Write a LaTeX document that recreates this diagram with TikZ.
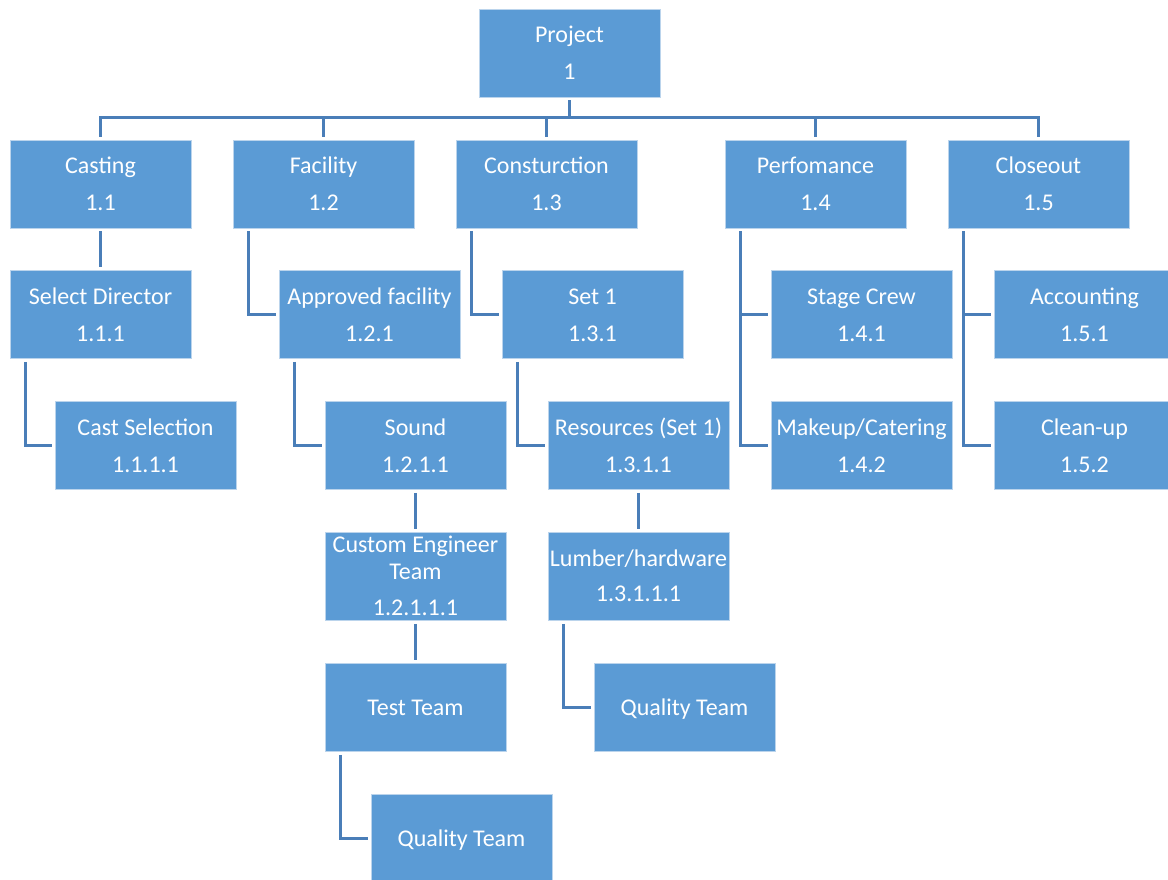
\documentclass[tikz,border=0pt]{standalone}
\usepackage{fontspec}
\setmainfont{Carlito}
\definecolor{boxfill}{HTML}{5B9BD5}
\definecolor{boxline}{HTML}{BBD4EC}
\definecolor{connc}{HTML}{4A7EB8}
\tikzset{
  wbsbox/.style={draw=boxline, line width=0.8pt, fill=boxfill, minimum width=181pt, minimum height=88pt, inner sep=0pt},
  wbstxt/.style={text=white, font=\fontsize{24}{28}\selectfont, inner sep=0pt, text height=15pt, text depth=0pt, anchor=center},
  conn/.style={draw=connc, line width=3pt, shorten <=3pt, shorten >=3pt},
}
% name, x, y, line1, line2
\newcommand\wbsbox[5]{%
  \node[wbsbox] (#1) at (#2,#3) {};
  \node[wbstxt] (#1-a) at ([yshift=18pt]#1.center) {#4};
  \node[wbstxt] (#1-b) at ([yshift=-19pt]#1.center) {#5};
}
\newcommand\wbsone[4]{%
  \node[wbsbox] (#1) at (#2,#3) {};
  \node[wbstxt] (#1-a) at (#1.center) {#4};
}
\begin{document}
\begin{tikzpicture}[x=1pt,y=-1pt]
\useasboundingbox (0,0) rectangle (1168,880);
\begin{scope}
\clip (0,0) rectangle (1168,880);
\wbsbox{p}{569.5}{53}{Project}{1}
\wbsbox{c1}{100.5}{184}{Casting}{1.1}
\wbsbox{c2}{323.5}{184}{Facility}{1.2}
\wbsbox{c3}{546.5}{184}{Consturction}{1.3}
\wbsbox{c4}{815.5}{184}{Perfomance}{1.4}
\wbsbox{c5}{1038.5}{184}{Closeout}{1.5}
\wbsbox{sd}{100.5}{314.5}{Select Director}{1.1.1}
\wbsbox{af}{369.5}{314.5}{Approved facility}{1.2.1}
\wbsbox{s1}{592.5}{314.5}{Set 1}{1.3.1}
\wbsbox{sc}{861.5}{314.5}{Stage Crew}{1.4.1}
\wbsbox{ac}{1084.5}{314.5}{Accounting}{1.5.1}
\wbsbox{cs}{145.5}{445.5}{Cast Selection}{1.1.1.1}
\wbsbox{so}{415.5}{445.5}{Sound}{1.2.1.1}
\wbsbox{rs}{638.5}{445.5}{Resources (Set 1)}{1.3.1.1}
\wbsbox{mc}{861.5}{445.5}{Makeup/Catering}{1.4.2}
\wbsbox{cu}{1084.5}{445.5}{Clean-up}{1.5.2}
% custom engineer team: three lines
\node[wbsbox] (ce) at (415.5,576.5) {};
\node[wbstxt] (ce-a) at ([yshift=31.5pt]ce.center) {Custom Engineer};
\node[wbstxt] (ce-b) at ([yshift=4.5pt]ce.center) {Team};
\node[wbstxt] (ce-c) at ([yshift=-31.5pt]ce.center) {1.2.1.1.1};
\node[wbsbox] (lh) at (638.5,576.5) {};
\node[wbstxt] (lh-a) at ([yshift=17.5pt]lh.center) {Lumber/hardware};
\node[wbstxt] (lh-b) at ([yshift=-17.5pt]lh.center) {1.3.1.1.1};
\wbsone{tt}{415.5}{707.5}{Test Team}
\wbsone{q1}{684.5}{707.5}{Quality Team}
\wbsone{q2}{461.5}{838.5}{Quality Team}
\end{scope}
% connectors
\coordinate (bus) at (569.5,118);
\draw[conn, shorten >=0pt] (p.south) -- (p.south |- bus);
\draw[conn] (c1.north) -- (c1.north |- bus) -- (c5.north |- bus) -- (c5.north);
\foreach \c in {c2,c3,c4} \draw[conn, shorten <=0pt] (\c.north |- bus) -- (\c.north);
\draw[conn] (c1.south) -- (sd.north);
\draw[conn] ([xshift=16pt]sd.south west) |- (cs.west);
\draw[conn] ([xshift=16pt]c2.south west) |- (af.west);
\draw[conn] ([xshift=16pt]af.south west) |- (so.west);
\draw[conn] (so.south) -- (ce.north);
\draw[conn] (ce.south) -- (tt.north);
\draw[conn] ([xshift=16pt]tt.south west) |- (q2.west);
\draw[conn] ([xshift=16pt]c3.south west) |- (s1.west);
\draw[conn] ([xshift=16pt]s1.south west) |- (rs.west);
\draw[conn] (rs.south) -- (lh.north);
\draw[conn] ([xshift=16pt]lh.south west) |- (q1.west);
\draw[conn] ([xshift=16pt]c4.south west) |- (mc.west);
\draw[conn, shorten <=0pt] ([xshift=16pt]c4.south west |- sc.west) -- (sc.west);
\draw[conn] ([xshift=16pt]c5.south west) |- (cu.west);
\draw[conn, shorten <=0pt] ([xshift=16pt]c5.south west |- ac.west) -- (ac.west);
\end{tikzpicture}
\end{document}
